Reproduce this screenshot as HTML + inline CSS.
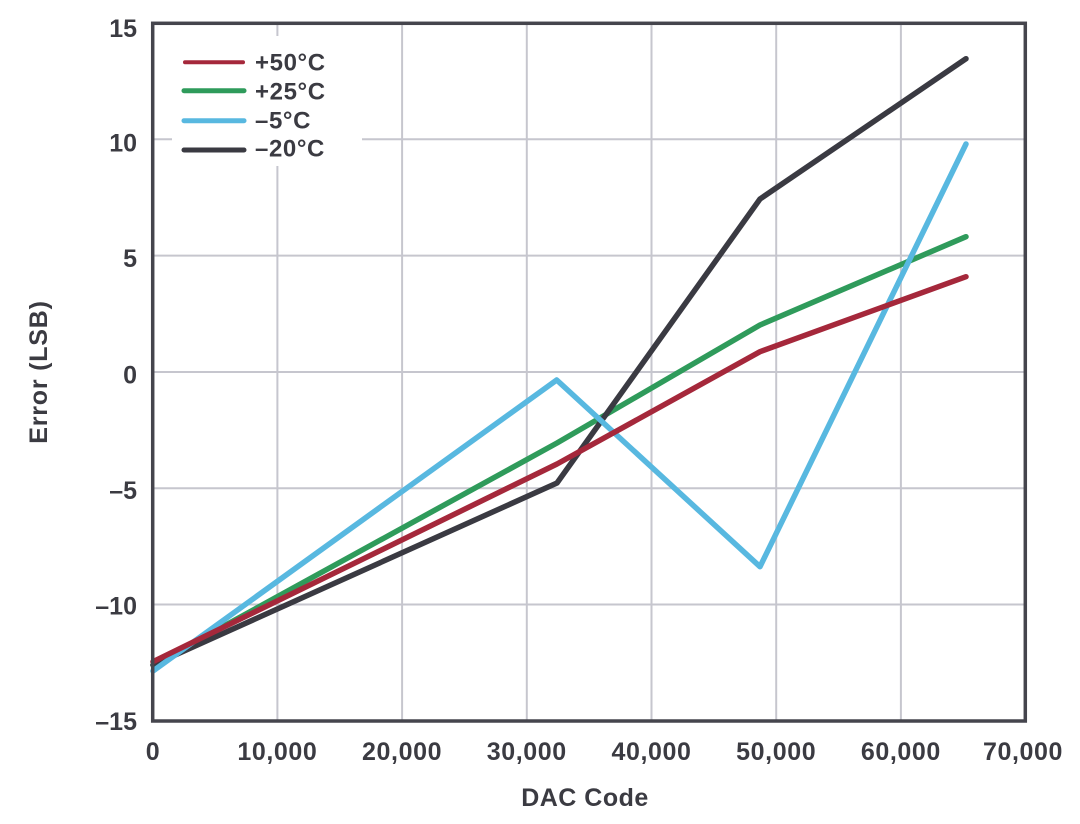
<!DOCTYPE html>
<html>
<head>
<meta charset="utf-8">
<style>
  html,body{margin:0;padding:0;background:#fff;}
  svg{display:block;}
  text{font-family:"Liberation Sans","DejaVu Sans",sans-serif;font-weight:bold;fill:#3b3b42;}
</style>
</head>
<body>
<svg width="1080" height="824" viewBox="0 0 1080 824" xmlns="http://www.w3.org/2000/svg">
  <rect x="0" y="0" width="1080" height="824" fill="#fff"/>
  <!-- grid -->
  <g stroke="#c6c6ce" stroke-width="2">
    <line x1="277.4" y1="23" x2="277.4" y2="721"/>
    <line x1="402.1" y1="23" x2="402.1" y2="721"/>
    <line x1="526.8" y1="23" x2="526.8" y2="721"/>
    <line x1="651.5" y1="23" x2="651.5" y2="721"/>
    <line x1="776.2" y1="23" x2="776.2" y2="721"/>
    <line x1="900.9" y1="23" x2="900.9" y2="721"/>
    <line x1="153" y1="139.3" x2="1025" y2="139.3"/>
    <line x1="153" y1="255.6" x2="1025" y2="255.6"/>
    <line x1="153" y1="372" x2="1025" y2="372"/>
    <line x1="153" y1="488.2" x2="1025" y2="488.2"/>
    <line x1="153" y1="604.5" x2="1025" y2="604.5"/>
  </g>
  <!-- legend background -->
  <rect x="172" y="36" width="190" height="130" fill="#fff"/>
  <!-- series -->
  <g fill="none" stroke-width="5.5" stroke-linejoin="round" stroke-linecap="round">
    <polyline stroke="#2f9b5b" points="153,665 557,443 760,325 966,236.7"/>
    <polyline stroke="#3a3a42" points="153,665 557,483 760,199 966,58.7"/>
    <polyline stroke="#58b8e0" points="153,671 556.7,380 760,566.7 966,144"/>
    <polyline stroke="#a5283b" points="153,661.7 557,464 760,351.7 966,276.7"/>
  </g>
  <!-- frame -->
  <rect x="152.7" y="23.3" width="872.6" height="697.7" fill="none" stroke="#45454d" stroke-width="3.5"/>
  <!-- legend -->
  <g stroke-width="5" stroke-linecap="round">
    <line x1="185" y1="62.3" x2="243" y2="62.3" stroke="#a5283b" stroke-width="4"/>
    <line x1="184" y1="90.7" x2="244" y2="90.7" stroke="#2f9b5b"/>
    <line x1="184" y1="120.7" x2="244" y2="120.7" stroke="#58b8e0"/>
    <line x1="184" y1="150" x2="244" y2="150" stroke="#3a3a42"/>
  </g>
  <g font-size="24" letter-spacing="0.6">
    <text x="255" y="70.7">+50°C</text>
    <text x="255" y="99.3">+25°C</text>
    <text x="255" y="128.3">–5°C</text>
    <text x="255" y="156.7">–20°C</text>
  </g>
  <!-- y tick labels -->
  <g font-size="25" text-anchor="end">
    <text x="137" y="37">15</text>
    <text x="137" y="151.5">10</text>
    <text x="137" y="267">5</text>
    <text x="137" y="383.5">0</text>
    <text x="137" y="499">–5</text>
    <text x="137" y="614.5">–10</text>
    <text x="137" y="730">–15</text>
  </g>
  <!-- x tick labels -->
  <g font-size="25" text-anchor="middle" letter-spacing="0.6">
    <text x="153" y="760">0</text>
    <text x="277.4" y="760">10,000</text>
    <text x="402.1" y="760">20,000</text>
    <text x="526.8" y="760">30,000</text>
    <text x="651.5" y="760">40,000</text>
    <text x="776.2" y="760">50,000</text>
    <text x="900.9" y="760">60,000</text>
    <text x="1023" y="760">70,000</text>
  </g>
  <!-- axis titles -->
  <text x="585" y="806" font-size="25" text-anchor="middle" letter-spacing="0.5">DAC Code</text>
  <text transform="translate(47,372) rotate(-90)" font-size="25" text-anchor="middle" letter-spacing="0.8">Error (LSB)</text>
</svg>
</body>
</html>
